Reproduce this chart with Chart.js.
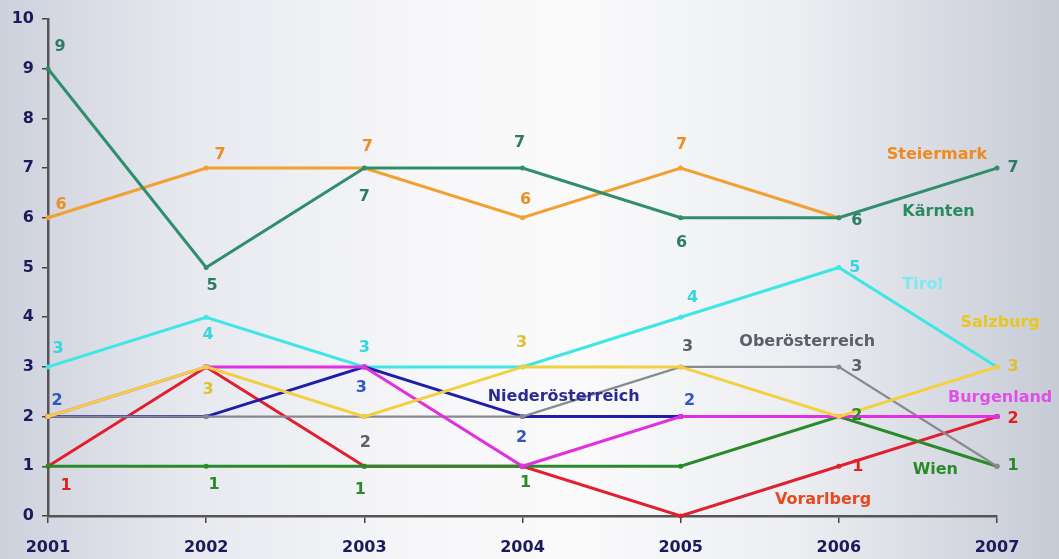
<!DOCTYPE html>
<html><head><meta charset="utf-8">
<script src="https://cdn.jsdelivr.net/npm/chart.js@4/dist/chart.umd.min.js"></script>
<style>
html,body{margin:0;padding:0;}
body{width:1059px;height:559px;overflow:hidden;
background:linear-gradient(90deg,#cdd1dc 0%,#e7e9ef 18%,#f7f7f9 40%,#fafafb 55%,#eceef2 75%,#c7cbd6 100%);}
#wrap{position:relative;width:1059px;height:559px;}
</style></head>
<body><div id="wrap"><canvas id="c" width="1059" height="559"></canvas></div>
<script>
const years = ['2001','2002','2003','2004','2005','2006','2007'];
const yTicks = [0,1,2,3,4,5,6,7,8,9,10];
const steiermark = [6,7,7,6,7,6,null];
const kaernten = [9,5,7,7,6,6,7];
const tirol = [3,4,3,3,4,5,3];
const salzburg = [2,3,2,3,3,2,3];
const oberoesterreich = [2,2,2,2,3,3,1];
const niederoesterreich = [2,2,3,2,2,2,2];
const burgenland = [2,3,3,1,2,2,2];
const vorarlberg = [1,3,1,1,0,1,2];
const wien = [1,1,1,1,1,2,1];
const seriesNames = ['Steiermark','Kärnten','Tirol','Salzburg','Oberösterreich','Niederösterreich','Burgenland','Vorarlberg','Wien'];

// label offsets (pixels relative to point), null = no label
const offs = {
  'Steiermark':[[13,-13],[14,-13],[3,-21],[3,-18],[1,-23],null,null],
  'Kärnten':[[12,-22],[6,18],[0,29],[-3,-25],[1,25],[18,3],[16,0]],
  'Tirol':[[10,-18],[2,18],[0,-19],null,[12,-19],[16,0],null],
  'Salzburg':[null,[2,23],null,[-1,-24],null,null,[16,0]],
  'Oberösterreich':[null,null,[1,26],null,[7,-20],[18,0],null],
  'Niederösterreich':[[9,-16],null,[-3,21],[-1,21],[9,-16],null,null],
  'Burgenland':[null,null,null,null,null,null,null],
  'Vorarlberg':[[18,20],null,null,null,null,[19,1],[16,2]],
  'Wien':[null,[8,19],[-4,24],[3,17],null,[18,-1],[16,0]]
};
// name label anchor in data units (category index, value)
const namePos = {
  'Steiermark':[5.62,7.26],'Kärnten':[5.63,6.12],'Tirol':[5.53,4.65],'Salzburg':[6.02,3.88],
  'Oberösterreich':[4.80,3.50],'Niederösterreich':[3.26,2.39],'Burgenland':[6.02,2.37],
  'Wien':[5.61,0.93],'Vorarlberg':[4.90,0.32]
};
const styles = {
  'Steiermark':{c:'#f2a030',l:'#e99025',n:'#ee8a1e',o:7},
  'Kärnten':{c:'#2f8f6c',l:'#2d7d62',n:'#2a8a60',o:6},
  'Tirol':{c:'#3ee6e6',l:'#35d6e0',n:'#7fe8f0',o:5},
  'Salzburg':{c:'#f2d040',l:'#e0c030',n:'#e8c820',o:1},
  'Oberösterreich':{c:'#888890',l:'#5e5e68',n:'#5e5e6a',o:3},
  'Niederösterreich':{c:'#1e1ea8',l:'#3058b8',n:'#2a2a90',o:4},
  'Burgenland':{c:'#e030e0',l:'#e040e0',n:'#e050e8',o:2},
  'Vorarlberg':{c:'#e02030',l:'#e02020',n:'#e84a20',o:9},
  'Wien':{c:'#2a8a2a',l:'#2a8a2a',n:'#2a8a2a',o:8}
};
const seriesData = [steiermark,kaernten,tirol,salzburg,oberoesterreich,niederoesterreich,burgenland,vorarlberg,wien];

const datasets = seriesNames.map((name,i)=>{
  const s = styles[name];
  return {
    label:name, data:seriesData[i], borderColor:s.c, backgroundColor:s.c,
    borderWidth: name==='Oberösterreich'?2.2:3, pointRadius: name==='Burgenland'?3.5:2.5,
    pointStyle: name==='Burgenland'?'rect':'circle', pointBorderWidth:0,
    tension:0, spanGaps:false, clip:false, order:s.o,
    labelOffsets:offs[name], labelColor:s.l, nameColor:s.n
  };
});

const labelPlugin = {
  id:'vlabels',
  afterDatasetsDraw(chart){
    const ctx = chart.ctx, xs = chart.scales.x, ys = chart.scales.y;
    ctx.save();
    ctx.textAlign='center'; ctx.textBaseline='middle';
    ctx.font='bold 16px "DejaVu Sans", sans-serif';
    chart.data.datasets.forEach((ds,di)=>{
      const meta = chart.getDatasetMeta(di);
      (ds.labelOffsets||[]).forEach((o,i)=>{
        if(!o || ds.data[i]==null) return;
        const p = meta.data[i];
        ctx.fillStyle = ds.labelColor;
        ctx.fillText(String(ds.data[i]), p.x+o[0], p.y+o[1]);
      });
    });
    ctx.font='bold 16px "DejaVu Sans", sans-serif';
    chart.data.datasets.forEach(ds=>{
      const np = namePos[ds.label]; if(!np) return;
      ctx.fillStyle = ds.nameColor;
      ctx.fillText(ds.label, xs.getPixelForValue(np[0]), ys.getPixelForValue(np[1]));
    });
    ctx.restore();
  }
};

new Chart(document.getElementById('c'),{
  type:'line',
  data:{labels:years, datasets},
  options:{
    responsive:false, animation:false,
    layout:{padding:{top:19,right:62,left:0,bottom:0}},
    plugins:{legend:{display:false},tooltip:{enabled:false}},
    scales:{
      x:{type:'category', offset:false,
        grid:{drawOnChartArea:false, drawTicks:true, tickLength:7, color:'#444', lineWidth:1.5},
        border:{color:'#555', width:2.5},
        ticks:{color:'#1b1b5c', font:{family:'"DejaVu Sans", sans-serif', size:16, weight:'bold'}, padding:15, maxRotation:0, autoSkip:false},
        afterFit(s){ s.height = 43; }
      },
      y:{min:0,max:10,
        afterBuildTicks(s){ s.ticks = yTicks.map(v=>({value:v})); },
        grid:{drawOnChartArea:false, drawTicks:true, tickLength:6, color:'#444', lineWidth:1.5},
        border:{color:'#555', width:2.5},
        ticks:{color:'#1b1b5c', font:{family:'"DejaVu Sans", sans-serif', size:16, weight:'bold'}, padding:8},
        afterFit(s){ s.width = 48; }
      }
    }
  },
  plugins:[labelPlugin]
});
</script>
</body></html>
